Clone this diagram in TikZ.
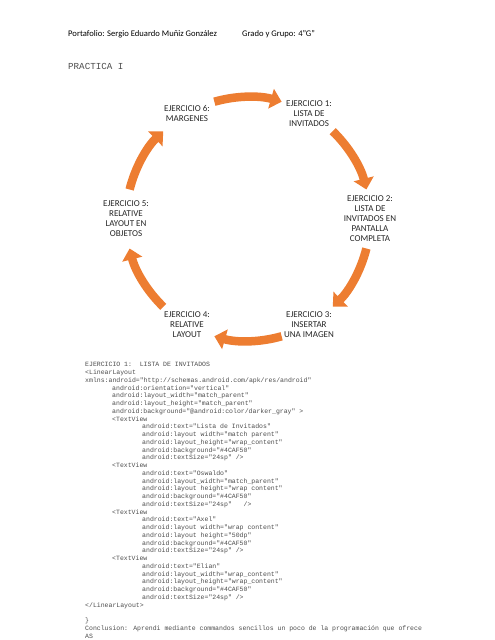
\documentclass[tikz,border=0pt]{standalone}
\usepackage{fontspec}
\setmainfont{Carlito}
\newfontfamily\codefont{Liberation Mono}
\usetikzlibrary{arrows.meta}
\definecolor{cycleorange}{HTML}{ED7D31}
\definecolor{codegray}{gray}{0.3}
\newcommand{\tabA}{\hspace*{27pt}}
\newcommand{\tabB}{\hspace*{57pt}}
\begin{document}
\begin{tikzpicture}[
    x=1pt, y=1pt,
    exbox/.style={align=center, inner sep=0pt, text=black!85, font=\fontsize{9}{10}\selectfont},
    cyclearrow/.style={draw=cycleorange, line width=8.5pt, -{Triangle[length=11pt,width=20pt]}},
    head/.style={anchor=base west, inner sep=0pt, font=\fontsize{8.6}{10}\selectfont}
]
\useasboundingbox (0,0) rectangle (495,-640);

% Header
\node[head] (portafolio) at (68,-36.5) {Portafolio: Sergio Eduardo Muñiz González};
\node[head] (grado) at (242,-36.5) {Grado y Grupo: 4"G"};
\node[anchor=base west, inner sep=0pt, text=codegray, font=\codefont\fontsize{9.2}{11}\selectfont] (practica) at (68,-69.5) {PRACTICA I};

% Cycle
\coordinate (cyc) at (248,-219);
\node[exbox] (ej1) at ([shift={(60:122pt)}]cyc) {EJERCICIO 1:\\LISTA DE\\INVITADOS};
\node[exbox] (ej2) at ([shift={(0:122pt)}]cyc) {EJERCICIO 2:\\LISTA DE\\INVITADOS EN\\PANTALLA\\COMPLETA};
\node[exbox] (ej3) at ([shift={(-60:122pt)}]cyc) {EJERCICIO 3:\\INSERTAR\\UNA IMAGEN};
\node[exbox] (ej4) at ([shift={(-120:122pt)}]cyc) {EJERCICIO 4:\\RELATIVE\\LAYOUT};
\node[exbox] (ej5) at ([shift={(180:122pt)}]cyc) {EJERCICIO 5:\\RELATIVE\\LAYOUT EN\\OBJETOS};
\node[exbox] (ej6) at ([shift={(120:122pt)}]cyc) {EJERCICIO 6:\\MARGENES};

% Arrows
\foreach \a in {90,30,-30,-90,-150,150}
  \draw[cyclearrow] ([shift={(\a+16:122pt)}]cyc) arc[start angle=\a+16, end angle=\a-16, radius=122pt];

% Code
\node[anchor=north west, inner sep=0pt, align=left, text=codegray, font=\codefont\fontsize{6.5}{7.75}\selectfont] (code) at (85,-362.4) {%
EJERCICIO 1:\ \ LISTA DE INVITADOS\\
<LinearLayout\\
xmlns:android="http://schemas.android.com/apk/res/android"\\
\tabA android:orientation="vertical"\\
\tabA android:layout\_width="match\_parent"\\
\tabA android:layout\_height="match\_parent"\\
\tabA android:background="@android:color/darker\_gray" >\\
\tabA <TextView\\
\tabB android:text="Lista de Invitados"\\
\tabB android:layout width="match parent"\\
\tabB android:layout\_height="wrap\_content"\\
\tabB android:background="\#4CAF50"\\
\tabB android:textSize="24sp" />\\
\tabA <TextView\\
\tabB android:text="Oswaldo"\\
\tabB android:layout\_width="match\_parent"\\
\tabB android:layout height="wrap content"\\
\tabB android:background="\#4CAF50"\\
\tabB android:textSize="24sp"\ \ \ />\\
\tabA <TextView\\
\tabB android:text="Axel"\\
\tabB android:layout width="wrap content"\\
\tabB android:layout height="50dp"\\
\tabB android:background="\#4CAF50"\\
\tabB android:textSize="24sp" />\\
\tabA <TextView\\
\tabB android:text="Elian"\\
\tabB android:layout\_width="wrap\_content"\\
\tabB android:layout\_height="wrap\_content"\\
\tabB android:background="\#4CAF50"\\
\tabB android:textSize="24sp" />\\
</LinearLayout>\\[7.75pt]
\}\\
Conclusion: Aprendi mediante commandos sencillos un poco de la programación que ofrece\\
AS};

\end{tikzpicture}
\end{document}
